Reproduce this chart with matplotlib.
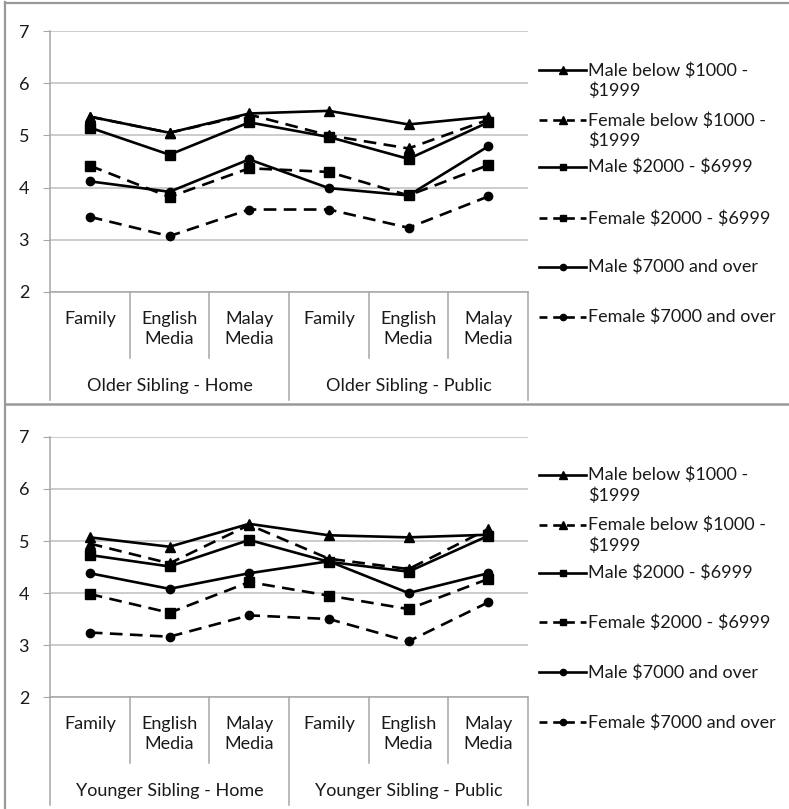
import matplotlib
matplotlib.use("Agg")
import matplotlib.pyplot as plt
from matplotlib.lines import Line2D
from matplotlib import transforms

plt.rcParams['font.family'] = ['Lato', 'DejaVu Sans']

W, H = 789, 809

categories = ["Family", "English\nMedia", "Malay\nMedia", "Family", "English\nMedia", "Malay\nMedia"]
groups_top = ["Older Sibling - Home", "Older Sibling - Public"]
groups_bottom = ["Younger Sibling - Home", "Younger Sibling - Public"]

series_names = ["Male below $1000 -\n$1999", "Female below $1000 -\n$1999",
                "Male $2000 - $6999", "Female $2000 - $6999",
                "Male $7000 and over", "Female $7000 and over"]

# Older sibling
older_male_low = [5.36, 5.05, 5.42, 5.47, 5.21, 5.36]
older_female_low = [5.36, 5.05, 5.40, 5.00, 4.75, 5.30]
older_male_mid = [5.15, 4.63, 5.25, 4.97, 4.55, 5.25]
older_female_mid = [4.42, 3.82, 4.37, 4.30, 3.85, 4.43]
older_male_high = [4.12, 3.92, 4.54, 3.99, 3.85, 4.79]
older_female_high = [3.44, 3.07, 3.58, 3.58, 3.23, 3.83]

# Younger sibling
younger_male_low = [5.07, 4.89, 5.33, 5.11, 5.07, 5.12]
younger_female_low = [4.95, 4.57, 5.31, 4.66, 4.46, 5.23]
younger_male_mid = [4.73, 4.51, 5.02, 4.60, 4.41, 5.10]
younger_female_mid = [3.98, 3.62, 4.21, 3.95, 3.69, 4.27]
younger_male_high = [4.38, 4.08, 4.38, 4.61, 4.00, 4.38]
younger_female_high = [3.24, 3.16, 3.57, 3.50, 3.07, 3.82]

yticks = [2, 3, 4, 5, 6, 7]

styles = [("-", "^"), ("--", "^"), ("-", "s"), ("--", "s"), ("-", "o"), ("--", "o")]
msizes = {"^": 7, "s": 6.5, "o": 6}

fig = plt.figure(figsize=(W / 100, H / 100), dpi=100)

def fx(px):
    return px / W

def fy(py):
    return 1 - py / H

AX_COL = "#A6A6A6"
GRID_COL = "#BFBFBF"
TXT = "#1a1a1a"
FS = 13

def panel(top, bottom, groups, data, leg_y):
    left, right = 50, 528
    ax = fig.add_axes([fx(left), fy(bottom), fx(right - left), (bottom - top) / H])
    x = list(range(len(categories)))
    for vals, (ls, mk), name in zip(data, styles, series_names):
        ax.plot(x, vals, linestyle=ls, marker=mk, color="black", lw=1.9,
                markersize=msizes[mk], dashes=(4.8, 2.8) if ls == "--" else (None, None))
    ax.set_xlim(-0.5, len(categories) - 0.5)
    ax.set_ylim(2, 7)
    ax.set_yticks(yticks)
    ax.set_yticklabels([str(t) for t in yticks])
    ax.tick_params(axis='y', length=5, color=AX_COL, labelsize=FS, pad=10, labelcolor=TXT)
    ax.set_xticks([])
    for s in ["top", "right", "bottom", "left"]:
        ax.spines[s].set_visible(False)
    ax.grid(axis='y', color=GRID_COL, lw=1.1)
    ax.set_axisbelow(True)

    # category axis separators below the plot
    bt = transforms.blended_transform_factory(ax.transData, fig.transFigure)
    sep_short = bottom + 66
    sep_long = bottom + 108
    ax.add_line(Line2D([-0.5, 5.5], [fy(bottom), fy(bottom)], transform=bt, color=AX_COL, lw=1.1, clip_on=False))
    ax.add_line(Line2D([-0.5, -0.5], [fy(top), fy(sep_long)], transform=bt, color=AX_COL, lw=1.1, clip_on=False))
    for xs in [0.5, 1.5, 3.5, 4.5]:
        ax.add_line(Line2D([xs, xs], [fy(bottom), fy(sep_short)], transform=bt, color=AX_COL, lw=1.1, clip_on=False))
    for xs in [2.5, 5.5]:
        ax.add_line(Line2D([xs, xs], [fy(bottom), fy(sep_long)], transform=bt, color=AX_COL, lw=1.1, clip_on=False))
    for i, c in enumerate(categories):
        ax.text(i, fy(bottom + 19), c, transform=bt, ha="center", va="top",
                fontsize=FS, color=TXT, linespacing=1.3)
    for gi, g in enumerate(groups):
        ax.text(1 + 3 * gi, fy(bottom + 94), g, transform=bt, ha="center", va="center",
                fontsize=FS, color=TXT)

    # legend drawn entry by entry
    for i, ((ls, mk), name) in enumerate(zip(styles, series_names)):
        yy = leg_y[i]
        fig.add_artist(Line2D([fx(539), fx(586)], [fy(yy), fy(yy)], transform=fig.transFigure,
                              color="black", lw=1.9, linestyle=ls,
                              dashes=(3, 2.2) if ls == "--" else (None, None)))
        fig.add_artist(Line2D([fx(562.5)], [fy(yy)], transform=fig.transFigure, color="black",
                              marker=mk, markersize=msizes[mk] - 1.5, linestyle="none"))
        fig.text(fx(588), fy(yy - 8), name, ha="left", va="top", fontsize=FS,
                 color=TXT, linespacing=1.3, parse_math=False)
    return ax

top_data = [older_male_low, older_female_low, older_male_mid,
            older_female_mid, older_male_high, older_female_high]
bot_data = [younger_male_low, younger_female_low, younger_male_mid,
            younger_female_mid, younger_male_high, younger_female_high]

panel(31, 292, groups_top, top_data, [70, 120, 167, 218, 267, 317])
panel(437, 697, groups_bottom, bot_data, [475, 525, 573, 622, 672, 722])

# outer borders
BORDER = "#999999"
fig.add_artist(Line2D([fx(5), fx(5)], [fy(2), fy(809)], transform=fig.transFigure, color=BORDER, lw=1.6))
fig.add_artist(Line2D([fx(5), fx(789)], [fy(2.5), fy(2.5)], transform=fig.transFigure, color=BORDER, lw=1.6))
fig.add_artist(Line2D([fx(5), fx(789)], [fy(404), fy(404)], transform=fig.transFigure, color=BORDER, lw=1.8))

fig.savefig("out.png", dpi=100)
